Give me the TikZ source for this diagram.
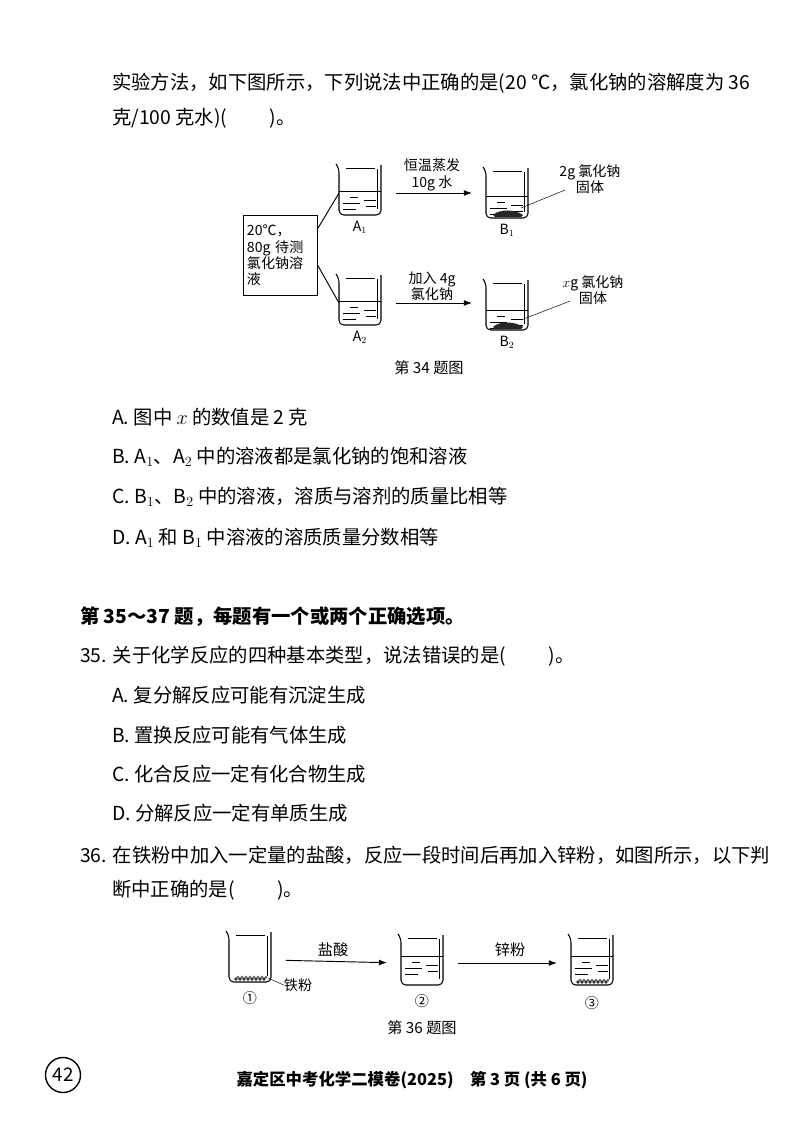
\documentclass[tikz,border=0pt]{standalone}
\usepackage{fontspec}
\setmainfont{Noto Sans CJK SC}
\usetikzlibrary{positioning, calc, arrows.meta}

\tikzset{
  txt/.style={anchor=west, inner sep=0pt, font=\fontsize{16.5}{20}\selectfont},
  lbl/.style={inner sep=0pt, font=\fontsize{12}{14}\selectfont},
  arr/.style={-{Latex[length=7pt,width=5pt]}, thick, shorten <=0.45cm, shorten >=0.42cm},
  pics/glass/.style={code={
      \draw[line width=0.9pt, rounded corners=4] (-24,-1) -- (-21,3) -- (-21,50) -- (21,50) -- (21,0);
      \draw (-14,3) -- (15,3);
      \draw (17,4) -- (17,44);
      \coordinate (-l) at (-21,28);
      \coordinate (-r) at (21,28);
      \coordinate (-s) at (14,40);
      \coordinate (-b) at (0,50);
  }},
  pics/beaker/.style={code={
      \pic {glass};
      \coordinate (-l) at (-21,28);
      \coordinate (-r) at (21,28);
      \coordinate (-s) at (14,40);
      \coordinate (-b) at (0,50);
      \draw (-21,#1) -- (21,#1);
      \draw (-10,#1+6) -- (-2,#1+6) (4,#1+9) -- (16,#1+9) (-17,#1+12) -- (0,#1+12)
            (6,#1+15) -- (16,#1+15) (-17,#1+18) -- (-4,#1+18);
  }},
  pics/solid/.style={code={
      \fill[black!85] (-14,47) .. controls (-8,41) and (8,41) .. (16,47) -- (14,49) -- (-12,49) -- cycle;
  }},
  pics/powder/.style={code={
      \foreach \i in {-14,-10,...,14} {
        \fill[black!80] (\i,47) circle (1.8);
        \fill[black!60] (\i+2,45) circle (1.5);
      }
  }}
}

\begin{document}
\begin{tikzpicture}[x=0.03cm, y=-0.03cm]
\useasboundingbox (0,0) rectangle (800,1132);

% question 34, end of stem
\node[txt] (q34a) at (112,83) {实验方法，如下图所示，下列说法中正确的是(20 ℃，氯化钠的溶解度为 36};
\node[txt] (q34b) at (112,118) {克/100 克水)(\hspace{2.2em})。};

% figure 34
\node[draw, thick, lbl, align=left, text width=2.0cm, inner sep=3pt, minimum height=2.4cm, anchor=north west] (box) at (243,215)
  {20℃，\\80g 待测\\氯化钠溶\\液};
\pic (a1) at (360,165) {beaker=26};
\pic (b1) at (507,168) {beaker=28};
\pic at (507,168) {solid};
\pic (a2) at (360,275) {beaker=26};
\pic (b2) at (507,280) {beaker=30};
\pic at (507,280) {solid};
\node[lbl, below=5pt of a1-b] (la1) {A$_1$};
\node[lbl, below=5pt of b1-b] (lb1) {B$_1$};
\node[lbl, below=5pt of a2-b] (la2) {A$_2$};
\node[lbl, below=5pt of b2-b] (lb2) {B$_2$};
\draw[thick] ($(box.north east)!0.17!(box.south east)$) -- (a1-l);
\draw[thick] ($(box.north east)!0.62!(box.south east)$) -- (a2-l);
\draw[arr] (a1-r) -- (a1-r -| b1-l);
\draw[arr] (a2-r) -- (a2-r -| b2-l);
\node[lbl, align=center] (evap) at (432,175) {恒温蒸发\\10g 水};
\node[lbl, align=center] (add) at (432,286) {加入 4g\\氯化钠};
\node[lbl, align=center] (s1) at (590,179) {2g 氯化钠\\固体};
\node[lbl, align=center] (s2) at (593,290) {$x$g 氯化钠\\固体};
\draw (b1-s) -- ($(s1.south west)+(6,-4)$);
\draw (b2-s) -- ($(s2.south west)+(8,-4)$);
\node[lbl, font=\fontsize{13}{15}\selectfont] (cap34) at (429,368) {第 34 题图};

% options of 34
\node[txt] (o34a) at (112,417) {A. 图中 $x$ 的数值是 2 克};
\node[txt] (o34b) at (112,457) {B. A$_1$、A$_2$ 中的溶液都是氯化钠的饱和溶液};
\node[txt] (o34c) at (112,497) {C. B$_1$、B$_2$ 中的溶液，溶质与溶剂的质量比相等};
\node[txt] (o34d) at (112,538) {D. A$_1$ 和 B$_1$ 中溶液的溶质质量分数相等};

% questions 35-37
\node[txt, font=\fontsize{16.5}{20}\bfseries] (head) at (80,617) {第 35～37 题，每题有一个或两个正确选项。};
\node[txt] (q35) at (80,656) {35. 关于化学反应的四种基本类型，说法错误的是(\hspace{2.2em})。};
\node[txt] (o35a) at (112,695) {A. 复分解反应可能有沉淀生成};
\node[txt] (o35b) at (112,735) {B. 置换反应可能有气体生成};
\node[txt] (o35c) at (112,774) {C. 化合反应一定有化合物生成};
\node[txt] (o35d) at (112,813) {D. 分解反应一定有单质生成};
\node[txt] (q36a) at (80,855) {36. 在铁粉中加入一定量的盐酸，反应一段时间后再加入锌粉，如图所示，以下判};
\node[txt] (q36b) at (112,890) {断中正确的是(\hspace{2.2em})。};

% figure 36
\pic (c1) at (250,932) {glass};
\pic at (250,932) {powder};
\pic (c2) at (422,935) {beaker=21};
\pic (c3) at (592,935) {beaker=21};
\pic at (592,935) {powder};
\node[lbl] (fe) at (298,985) {铁粉};
\draw (c1-s) ++(4,6) -- (fe.west);
\node[lbl] (n1) at (250,998) {①};
\node[lbl] (n2) at (422,1001) {②};
\node[lbl] (n3) at (592,1003) {③};
\draw[arr] (c1-r) -- (c2-l);
\draw[arr] (c2-r) -- (c3-l);
\node[lbl, font=\fontsize{13}{15}\selectfont] (hcl) at (333,950) {盐酸};
\node[lbl, font=\fontsize{13}{15}\selectfont] (zn) at (510,950) {锌粉};
\node[lbl, font=\fontsize{13}{15}\selectfont] (cap36) at (422,1028) {第 36 题图};

% footer
\node[draw, circle, line width=1.2pt, inner sep=1pt, minimum size=1.05cm, font=\fontsize{16}{16}\selectfont] (pg) at (63,1075) {42};
\node[lbl, font=\fontsize{14}{16}\selectfont\bfseries] (foot) at (412,1080) {嘉定区中考化学二模卷(2025)\quad 第 3 页 (共 6 页)};
\end{tikzpicture}
\end{document}
